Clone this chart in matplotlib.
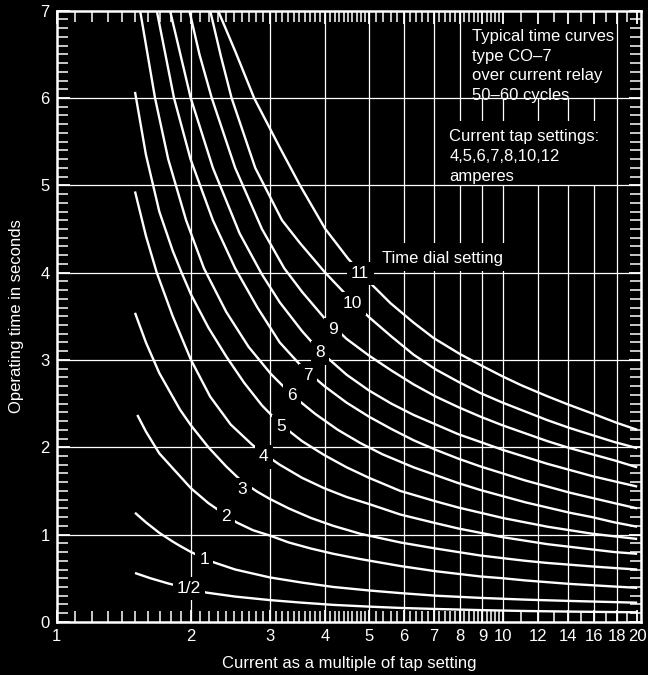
import numpy as np
import matplotlib
matplotlib.use("Agg")
import matplotlib.pyplot as plt

plt.rcParams['font.family'] = ['Liberation Sans', 'DejaVu Sans']

# ---------------- data ----------------
x_half = [1.498, 1.622, 1.779, 1.980, 2.169, 2.512, 3.0, 3.548, 4.169, 5.012, 5.888, 7.079, 8.913, 11.22, 14.13, 20.0]
y_half = [0.56, 0.50, 0.44, 0.38, 0.335, 0.29, 0.25, 0.22, 0.195, 0.175, 0.16, 0.148, 0.135, 0.125, 0.118, 0.11]

x_1 = [1.498, 1.585, 1.698, 1.820, 1.890, 2.0, 2.138, 2.226, 2.512, 3.0, 3.548, 4.169, 5.012, 5.888, 7.079, 8.913, 11.22, 14.13, 20.0]
y_1 = [1.25, 1.14, 1.02, 0.92, 0.87, 0.80, 0.73, 0.69, 0.60, 0.51, 0.45, 0.40, 0.36, 0.33, 0.30, 0.275, 0.255, 0.24, 0.22]

x_2 = [1.516, 1.585, 1.698, 1.820, 2.0, 2.188, 2.399, 2.529, 2.754, 3.0, 3.311, 3.715, 4.169, 4.786, 5.888, 7.079, 7.943, 8.913, 10.0, 11.22, 12.59, 14.13, 15.85, 17.78, 20.0]
y_2 = [2.37, 2.18, 1.93, 1.76, 1.53, 1.36, 1.22, 1.14, 1.05, 0.99, 0.91, 0.84, 0.78, 0.72, 0.64, 0.58, 0.55, 0.52, 0.50, 0.475, 0.455, 0.435, 0.42, 0.405, 0.39]

x_3 = [1.498, 1.585, 1.698, 1.890, 2.0, 2.188, 2.399, 2.612, 2.818, 3.0, 3.311, 3.715, 4.169, 4.786, 5.888, 7.079, 7.943, 8.913, 10.0, 11.22, 12.59, 14.13, 15.85, 17.78, 20.0]
y_3 = [3.54, 3.20, 2.85, 2.43, 2.25, 2.00, 1.78, 1.60, 1.49, 1.41, 1.30, 1.19, 1.10, 1.01, 0.91, 0.84, 0.80, 0.76, 0.73, 0.70, 0.675, 0.655, 0.635, 0.617, 0.60]

x_4 = [1.498, 1.585, 1.676, 1.820, 2.0, 2.208, 2.455, 2.742, 2.884, 3.162, 3.548, 3.981, 4.467, 5.012, 5.888, 7.079, 7.943, 8.913, 10.0, 11.22, 12.59, 14.13, 15.85, 17.78, 20.0]
y_4 = [4.93, 4.42, 4.00, 3.50, 3.00, 2.58, 2.26, 2.03, 1.94, 1.80, 1.65, 1.53, 1.43, 1.35, 1.23, 1.13, 1.07, 1.02, 0.97, 0.93, 0.89, 0.86, 0.83, 0.80, 0.78]

x_5 = [1.498, 1.585, 1.698, 1.820, 1.905, 2.0, 2.188, 2.399, 2.630, 2.884, 3.162, 3.548, 3.981, 4.467, 5.012, 5.888, 7.079, 7.943, 8.913, 10.0, 11.22, 12.59, 14.13, 15.85, 17.78, 20.0]
y_5 = [6.07, 5.35, 4.70, 4.25, 4.00, 3.75, 3.37, 3.04, 2.74, 2.48, 2.27, 2.07, 1.91, 1.77, 1.65, 1.50, 1.38, 1.31, 1.25, 1.19, 1.14, 1.09, 1.05, 1.01, 0.98, 0.95]

x_6 = [1.538, 1.661, 1.778, 1.950, 2.138, 2.399, 2.692, 3.020, 3.365, 3.802, 4.266, 4.786, 5.370, 6.310, 7.079, 7.943, 8.913, 10.0, 11.22, 12.59, 14.13, 15.85, 17.78, 20.0]
y_6 = [7.00, 6.00, 5.30, 4.60, 4.05, 3.55, 3.15, 2.84, 2.60, 2.38, 2.20, 2.05, 1.92, 1.77, 1.68, 1.59, 1.51, 1.44, 1.37, 1.31, 1.25, 1.20, 1.14, 1.09]

x_7 = [1.676, 1.832, 1.995, 2.239, 2.512, 2.818, 3.162, 3.548, 3.981, 4.467, 5.012, 5.623, 6.310, 7.079, 7.943, 8.913, 10.0, 11.22, 12.59, 14.13, 15.85, 17.78, 20.0]
y_7 = [7.00, 6.00, 5.30, 4.60, 4.05, 3.60, 3.20, 2.92, 2.70, 2.51, 2.35, 2.21, 2.08, 1.97, 1.87, 1.78, 1.70, 1.62, 1.55, 1.48, 1.42, 1.36, 1.30]

x_8 = [1.795, 1.997, 2.239, 2.570, 2.884, 3.162, 3.548, 3.890, 4.467, 5.012, 5.623, 6.310, 7.079, 7.943, 8.913, 10.0, 11.22, 12.59, 14.13, 15.85, 17.78, 20.0]
y_8 = [7.00, 6.00, 5.20, 4.45, 3.98, 3.66, 3.33, 3.10, 2.83, 2.65, 2.50, 2.37, 2.26, 2.15, 2.06, 1.97, 1.89, 1.81, 1.74, 1.67, 1.61, 1.55]

x_9 = [1.983, 2.089, 2.226, 2.512, 2.884, 3.236, 3.548, 3.981, 4.467, 5.012, 5.623, 6.310, 7.079, 7.943, 8.913, 10.0, 11.22, 12.59, 14.13, 15.85, 17.78, 20.0]
y_9 = [7.00, 6.50, 6.00, 5.20, 4.50, 4.05, 3.78, 3.48, 3.24, 3.05, 2.88, 2.72, 2.58, 2.46, 2.35, 2.25, 2.16, 2.07, 1.99, 1.92, 1.85, 1.77]

x_10 = [2.208, 2.333, 2.466, 2.786, 3.199, 3.508, 3.981, 4.467, 5.012, 5.623, 6.310, 7.079, 7.943, 8.913, 10.0, 11.22, 12.59, 14.13, 15.85, 17.78, 20.0]
y_10 = [7.00, 6.48, 6.00, 5.20, 4.60, 4.34, 4.01, 3.74, 3.49, 3.27, 3.06, 2.89, 2.75, 2.62, 2.51, 2.41, 2.31, 2.22, 2.14, 2.06, 1.99]

x_11 = [2.30, 2.52, 2.77, 3.15, 3.51, 4.0, 4.5, 5.0, 5.6, 6.3, 7.0, 8.0, 9.0, 10.0, 11.0, 12.5, 14.0, 16.0, 18.0, 20.0]
y_11 = [7.00, 6.52, 6.00, 5.45, 5.00, 4.50, 4.16, 3.90, 3.65, 3.43, 3.25, 3.07, 2.93, 2.81, 2.71, 2.59, 2.49, 2.38, 2.28, 2.20]

curve_names = ['1/2', '1', '2', '3', '4', '5', '6', '7', '8', '9', '10', '11']
label_x = [1.98, 2.14, 2.40, 2.61, 2.91, 3.18, 3.36, 3.66, 3.89, 4.17, 4.59, 4.79]
label_y = [0.38, 0.72, 1.21, 1.52, 1.89, 2.24, 2.59, 2.82, 3.08, 3.35, 3.65, 3.99]

note_lines = ['Typical time curves', 'type CO\u20137', 'over current relay', '50\u201360 cycles']
tap_lines = ['Current tap settings:', '4,5,6,7,8,10,12', 'amperes']
dial_text = 'Time dial setting'

x_ticks = [1, 2, 3, 4, 5, 6, 7, 8, 9, 10, 12, 14, 16, 18, 20]
y_ticks = [0, 1, 2, 3, 4, 5, 6, 7]
x_grid = [2, 3, 4, 5, 6, 7, 8, 9, 10, 12, 14, 16, 18]
y_grid = [1, 2, 3, 4, 5, 6]

# ---------------- figure ----------------
W, H = 648, 675
fig = plt.figure(figsize=(W / 100, H / 100), dpi=100, facecolor='black')
left, right, top, bottom = 56.7, 641.0, 10.7, 621.9
ax = fig.add_axes([left / W, (H - bottom) / H, (right - left) / W, (bottom - top) / H])
ax.set_facecolor('black')
ax.set_xscale('log')
ax.set_xlim(1, 20.4)
ax.set_ylim(0, 7)

# vertical grid, then black panels behind the text blocks, then horizontal grid
for xv in x_grid:
    ax.axvline(xv, color='white', lw=0.9, zorder=1)
for (xa, xb, ya, yb) in [(8.3, 17.2, 6.0, 7.0), (7.4, 17.0, 5.0, 5.74), (5.25, 10.7, 4.02, 4.34)]:
    ax.fill([xa, xb, xb, xa], [ya, ya, yb, yb], color='black', zorder=1.5, lw=0)
for yv in y_grid:
    ax.axhline(yv, color='white', lw=0.9, zorder=2)

curves_x = [x_half, x_1, x_2, x_3, x_4, x_5, x_6, x_7, x_8, x_9, x_10, x_11]
curves_y = [y_half, y_1, y_2, y_3, y_4, y_5, y_6, y_7, y_8, y_9, y_10, y_11]
for cx, cy in zip(curves_x, curves_y):
    ax.plot(cx, cy, color='white', lw=1.7, zorder=3, solid_capstyle='butt',
            solid_joinstyle='round')

for name, lx, ly in zip(curve_names, label_x, label_y):
    ax.text(lx, ly, name, color='white', fontsize=12.5, ha='center', va='center', zorder=5,
            bbox=dict(facecolor='black', edgecolor='none', pad=3.0))

# annotations
anno_fs = 12
for i, s in enumerate(note_lines):
    ax.text(471.7, H - (36.7 + 19.5 * i), s, transform=None, color='white', fontsize=anno_fs,
            va='center', ha='left', zorder=5)
for i, s in enumerate(tap_lines):
    ax.text(449.3, H - (136.7 + 20 * i), s, transform=None, color='white', fontsize=anno_fs,
            va='center', ha='left', zorder=5)
ax.text(381.7, H - 258.3, dial_text, transform=None, color='white', fontsize=anno_fs,
        va='center', ha='left', zorder=5)

# spines & ticks
for sp in ax.spines.values():
    sp.set_color('white')
    sp.set_linewidth(1.8)
    sp.set_zorder(6)

ax.set_xticks(x_ticks)
ax.set_xticklabels([str(v) for v in x_ticks])
minor_x = [v for v in np.round(np.arange(1.1, 5.0, 0.1), 2) if abs(v - round(v)) > 1e-6]
minor_x += [v for v in np.round(np.arange(5.2, 10.0, 0.2), 2) if abs(v - round(v)) > 1e-6]
minor_x += [11, 13, 15, 17, 19]
ax.set_xticks(minor_x, minor=True)
ax.set_yticks(y_ticks)
ax.set_yticklabels([str(v) for v in y_ticks])
ax.set_yticks(np.round(np.arange(0.1, 7.0, 0.1), 2), minor=True)
ax.xaxis.set_minor_formatter(plt.NullFormatter())

ax.tick_params(which='both', direction='in', colors='white', top=True, right=True,
               labelsize=12)
ax.tick_params(which='major', length=9, width=1.3, pad=5)
ax.tick_params(which='minor', length=8, width=1.1)

ax.set_xlabel('Current as a multiple of tap setting', color='white', fontsize=12, labelpad=9)
ax.set_ylabel('Operating time in seconds', color='white', fontsize=12, labelpad=12)

fig.savefig('out.png', dpi=100, facecolor='black')
